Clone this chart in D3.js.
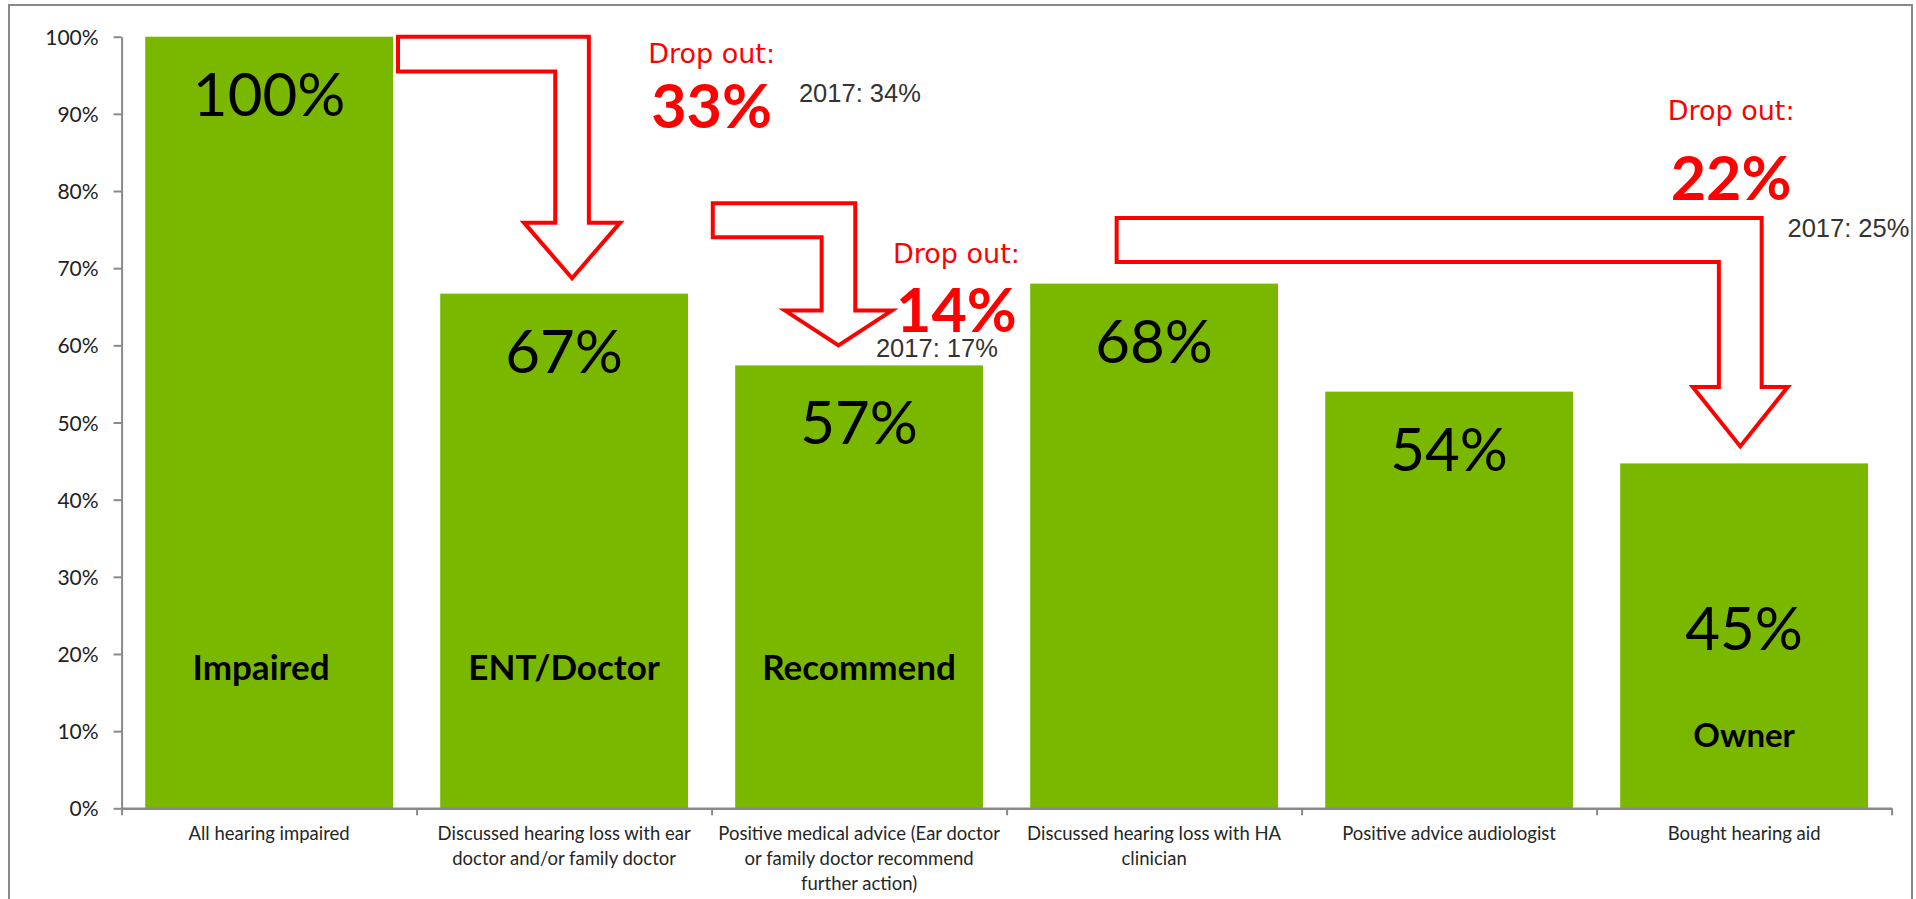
<!DOCTYPE html>
<html>
<head>
<meta charset="utf-8">
<style>
  body { margin: 0; background: #fff; }
  svg { display: block; }
</style>
</head>
<body>
<svg width="1916" height="899"></svg>

<script src="https://cdn.jsdelivr.net/npm/d3@7/dist/d3.min.js"></script>

<script>
// funnel steps
var categories = [
  "All hearing impaired",
  "Discussed hearing loss with ear doctor and/or family doctor",
  "Positive medical advice (Ear doctor or family doctor recommend further action)",
  "Discussed hearing loss with HA clinician",
  "Positive advice audiologist",
  "Bought hearing aid"
];
var categoryLines = [
  ["All hearing impaired"],
  ["Discussed hearing loss with ear", "doctor and/or family doctor"],
  ["Positive medical advice (Ear doctor", "or family doctor recommend", "further action)"],
  ["Discussed hearing loss with HA", "clinician"],
  ["Positive advice audiologist"],
  ["Bought hearing aid"]
];
var values = [1.00, 0.667, 0.574, 0.68, 0.54, 0.447];
var stageNames = ["Impaired", "ENT/Doctor", "Recommend", "", "", "Owner"];
var stageNameAt = [0.166, 0.166, 0.166, 0, 0, 0.080];
var valueLabelAt = [1.00, 0.667, 0.574, 0.68, 0.54, 0.3075];
var yTicks = [0, 0.1, 0.2, 0.3, 0.4, 0.5, 0.6, 0.7, 0.8, 0.9, 1.0];

// drop out call-outs (position in category units / value units)
var dropOut = ["33%", "14%", "22%"];
var dropPrev = ["2017: 34%", "2017: 17%", "2017: 25%"];
var dropCenterX = [2.0, 2.83, 5.456];
var dropTitleY = [0.966, 0.7063, 0.892];
var dropValueY = [0.882, 0.6177, 0.7885];
var prevX = [2.296, 2.557, 5.647];
var prevY = [0.916, 0.5845, 0.740];

// arrows: start x, shaft centre x, top, inner, head base, tip, half shaft, half head
var arrowStart = [0.937, 2.004, 3.373];
var arrowShaft = [1.527, 2.430, 5.487];
var arrowTop = [1.0, 0.784, 0.765];
var arrowInner = [0.955, 0.740, 0.708];
var arrowHead = [0.759, 0.645, 0.546];
var arrowTip = [0.687, 0.600, 0.469];
var arrowHalfShaft = [0.057, 0.057, 0.0725];
var arrowHalfHead = [0.163, 0.181, 0.161];

var svg = d3.select("svg"),
    width = +svg.attr("width"),
    height = +svg.attr("height");

var plotLeft = 121.6, plotRight = 1891.6, plotTop = 36.7, plotBottom = 808.3;

var green = "#7ab800",
    red = "#ff0000",
    axisGrey = "#898989",
    calibri = "Lato, 'Open Sans', sans-serif";

// outer frame
svg.append("rect")
    .attr("x", 9).attr("y", 5)
    .attr("width", 1903).attr("height", 910)
    .attr("fill", "none")
    .attr("stroke", axisGrey)
    .attr("stroke-width", 2);

var x = d3.scaleBand()
    .domain(categories)
    .range([plotLeft, plotRight])
    .paddingInner(0.16)
    .paddingOuter(0.08);

var xPos = d3.scaleLinear()
    .domain([0, categories.length])
    .range([plotLeft, plotRight]);

var y = d3.scaleLinear()
    .domain([0, 1])
    .range([plotBottom, plotTop]);

// bars
svg.selectAll(".bar")
    .data(values)
    .enter().append("rect")
      .attr("class", "bar")
      .attr("x", function(d, i) { return x(categories[i]); })
      .attr("y", function(d) { return y(d); })
      .attr("width", x.bandwidth())
      .attr("height", function(d) { return y(0) - y(d); })
      .attr("fill", green);

// y axis
var yAxis = svg.append("g")
    .attr("transform", "translate(" + plotLeft + ",0)")
    .call(d3.axisLeft(y)
      .tickValues(yTicks)
      .tickFormat(d3.format(".0%"))
      .tickSize(8)
      .tickSizeOuter(0)
      .tickPadding(15));
yAxis.select(".domain").attr("stroke", axisGrey).attr("stroke-width", 2);
yAxis.selectAll(".tick line").attr("stroke", axisGrey).attr("stroke-width", 2);
yAxis.selectAll(".tick text")
    .attr("fill", "#222")
    .attr("font-family", calibri)
    .attr("font-size", 21)
    .attr("dy", "0.36em");

// x axis, ticks between the categories
var xAxis = svg.append("g")
    .attr("transform", "translate(0," + plotBottom + ")")
    .call(d3.axisBottom(xPos)
      .tickValues(d3.range(categories.length + 1))
      .tickFormat("")
      .tickSize(7)
      .tickSizeOuter(0));
xAxis.select(".domain").attr("stroke", axisGrey).attr("stroke-width", 2.5);
xAxis.selectAll(".tick line").attr("stroke", axisGrey).attr("stroke-width", 2);

// category labels
var catLabel = svg.selectAll(".cat")
    .data(categoryLines)
    .enter().append("text")
      .attr("class", "cat")
      .attr("text-anchor", "middle")
      .attr("font-family", calibri)
      .attr("font-size", 18.5)
      .attr("fill", "#262626")
      .attr("transform", function(d, i) {
        return "translate(" + (x(categories[i]) + x.bandwidth() / 2) + "," + (plotBottom + 32) + ")";
      });
catLabel.selectAll("tspan")
    .data(function(d) { return d; })
    .enter().append("tspan")
      .attr("x", 0)
      .attr("y", function(d, j) { return j * 25; })
      .text(function(d) { return d; });

// value labels inside bars
svg.selectAll(".val")
    .data(values)
    .enter().append("text")
      .attr("class", "val")
      .attr("text-anchor", "middle")
      .attr("font-family", calibri)
      .attr("font-size", 60)
      .attr("fill", "#000")
      .attr("x", function(d, i) { return x(categories[i]) + x.bandwidth() / 2; })
      .attr("y", function(d, i) { return y(valueLabelAt[i]) + 79; })
      .text(function(d) { return d3.format(".0%")(d); });

// stage names
svg.selectAll(".stage")
    .data(stageNames)
    .enter().append("text")
      .attr("class", "stage")
      .attr("text-anchor", "middle")
      .attr("font-family", calibri)
      .attr("font-weight", "bold")
      .attr("font-size", function(d, i) { return i == 5 ? 33 : 35; })
      .attr("fill", "#000")
      .attr("x", function(d, i) { return x(categories[i]) + x.bandwidth() / 2 - (i == 0 ? 8 : 0); })
      .attr("y", function(d, i) { return y(stageNameAt[i]); })
      .text(function(d) { return d; });

// arrows
svg.selectAll(".arrow")
    .data(arrowStart)
    .enter().append("path")
      .attr("class", "arrow")
      .attr("fill", "#fff")
      .attr("stroke", red)
      .attr("stroke-width", 4)
      .attr("stroke-linejoin", "miter")
      .attr("d", function(d, i) {
        var xc = arrowShaft[i], hs = arrowHalfShaft[i], hh = arrowHalfHead[i];
        var p = d3.path();
        p.moveTo(xPos(d), y(arrowTop[i]));
        p.lineTo(xPos(xc + hs), y(arrowTop[i]));
        p.lineTo(xPos(xc + hs), y(arrowHead[i]));
        p.lineTo(xPos(xc + hh), y(arrowHead[i]));
        p.lineTo(xPos(xc), y(arrowTip[i]));
        p.lineTo(xPos(xc - hh), y(arrowHead[i]));
        p.lineTo(xPos(xc - hs), y(arrowHead[i]));
        p.lineTo(xPos(xc - hs), y(arrowInner[i]));
        p.lineTo(xPos(d), y(arrowInner[i]));
        p.closePath();
        return p.toString();
      });

// drop out call-outs
var drop = svg.selectAll(".drop")
    .data(dropOut)
    .enter().append("g")
      .attr("class", "drop");
drop.append("text")
    .attr("text-anchor", "middle")
    .attr("font-family", "'DejaVu Sans', Verdana, sans-serif")
    .attr("font-size", 27)
    .attr("fill", red)
    .attr("x", function(d, i) { return xPos(dropCenterX[i]); })
    .attr("y", function(d, i) { return y(dropTitleY[i]); })
    .text("Drop out:");
drop.append("text")
    .attr("text-anchor", "middle")
    .attr("font-family", calibri)
    .attr("font-weight", "bold")
    .attr("font-size", 61)
    .attr("fill", red)
    .attr("x", function(d, i) { return xPos(dropCenterX[i]); })
    .attr("y", function(d, i) { return y(dropValueY[i]); })
    .text(function(d) { return d; });
drop.append("text")
    .attr("font-family", "'Liberation Sans', Arial, sans-serif")
    .attr("font-size", 25.5)
    .attr("fill", "#333")
    .attr("x", function(d, i) { return xPos(prevX[i]); })
    .attr("y", function(d, i) { return y(prevY[i]); })
    .text(function(d, i) { return dropPrev[i]; });
</script>
</body>
</html>
